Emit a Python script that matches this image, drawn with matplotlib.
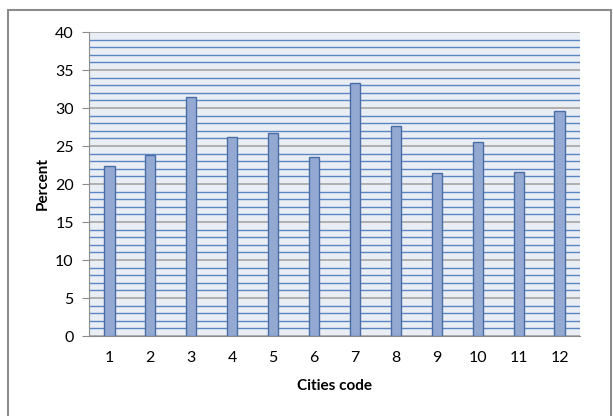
import numpy as np
import matplotlib.pyplot as plt
from matplotlib.patches import Rectangle

# datos
cities = ['1', '2', '3', '4', '5', '6', '7', '8', '9', '10', '11', '12']
percent = [22.4, 23.8, 31.4, 26.2, 26.7, 23.5, 33.3, 27.6, 21.4, 25.5, 21.6, 29.6]

plt.rcParams['font.family'] = ['Lato', 'DejaVu Sans']

fig = plt.figure(figsize=(6.13, 4.16), dpi=100)
ax = fig.add_axes([89/613, 1 - 336/416, (580 - 89)/613, (336 - 32)/416])

# marco exterior del grafico
fig.patches.append(Rectangle((8/613, -0.05), (611 - 8)/613, 1.05 - 10/416,
                             transform=fig.transFigure, fill=False,
                             edgecolor='#8c8c8c', lw=1.5))

ax.set_facecolor('#E9EDF4')
x = np.arange(len(cities))
ax.bar(x, percent, width=0.25, color='#94A9D2', edgecolor='#4A6DA6', lw=1, zorder=3)

ax.set_xlim(-0.5, len(cities) - 0.5)
ax.set_ylim(0, 40)
ax.set_yticks(np.arange(0, 41, 5))
ax.set_yticks(np.arange(0, 41, 1), minor=True)
ax.set_xticks(x)
ax.set_xticklabels(cities)

ax.grid(True, which='minor', axis='y', color='#5B86C4', lw=1.0, zorder=1)
ax.grid(True, which='major', axis='y', color='#A6A6A6', lw=1.2, zorder=2)
ax.tick_params(axis='y', which='minor', length=0)
ax.tick_params(axis='y', which='major', length=5, color='#8c8c8c', labelsize=11.5, pad=6)
ax.tick_params(axis='x', length=0, labelsize=11.5, pad=11)

for s in ['top', 'right']:
    ax.spines[s].set_visible(False)
ax.spines['left'].set_color('#8c8c8c')
ax.spines['bottom'].set_color('#8c8c8c')

ax.set_xlabel('Cities code', fontsize=11, fontweight='bold', labelpad=10)
ax.set_ylabel('Percent', fontsize=11, fontweight='bold', labelpad=4)

fig.savefig('out.png', dpi=100)
